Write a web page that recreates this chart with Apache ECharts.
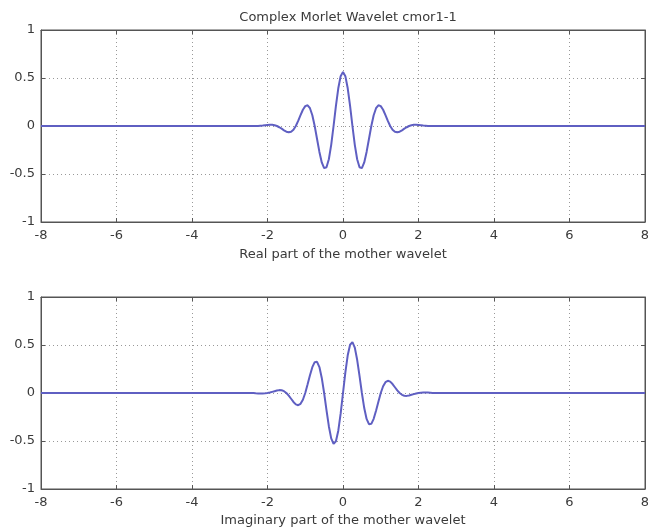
<!DOCTYPE html>
<html>
<head>
<meta charset="utf-8">
<script src="https://cdn.jsdelivr.net/npm/echarts@6/dist/echarts.min.js"></script>
<style>
html,body{margin:0;padding:0;background:#fff;}
#chart{width:648px;height:531px;}
</style>
</head>
<body>
<div id="chart"></div>
<script>
// ---- data ----
const titleText = 'Complex Morlet Wavelet cmor1-1';
const realLabel = 'Real part of the mother wavelet';
const imagLabel = 'Imaginary part of the mother wavelet';
const xTicks = [-8, -6, -4, -2, 0, 2, 4, 6, 8];
const yTicks = [-1, -0.5, 0, 0.5, 1];

const xs = [-8,
  -2.5, -2.4375, -2.375, -2.3125, -2.25, -2.1875, -2.125, -2.0625,
  -2, -1.9375, -1.875, -1.8125, -1.75, -1.6875, -1.625, -1.5625,
  -1.5, -1.4375, -1.375, -1.3125, -1.25, -1.1875, -1.125, -1.0625,
  -1, -0.9375, -0.875, -0.8125, -0.75, -0.6875, -0.625, -0.5625,
  -0.5, -0.4375, -0.375, -0.3125, -0.25, -0.1875, -0.125, -0.0625,
  0, 0.0625, 0.125, 0.1875, 0.25, 0.3125, 0.375, 0.4375,
  0.5, 0.5625, 0.625, 0.6875, 0.75, 0.8125, 0.875, 0.9375,
  1, 1.0625, 1.125, 1.1875, 1.25, 1.3125, 1.375, 1.4375,
  1.5, 1.5625, 1.625, 1.6875, 1.75, 1.8125, 1.875, 1.9375,
  2, 2.0625, 2.125, 2.1875, 2.25, 2.3125, 2.375, 2.4375,
  2.5, 8];

const realPart = [0,
  -0.001, -0.001, -0.001, -0.001, 0, 0.002, 0.004, 0.007,
  0.010, 0.012, 0.012, 0.008, 0, -0.013, -0.028, -0.045,
  -0.059, -0.066, -0.060, -0.039, 0, 0.053, 0.113, 0.169,
  0.207, 0.216, 0.185, 0.112, 0, -0.135, -0.270, -0.380,
  -0.439, -0.430, -0.346, -0.196, 0, 0.209, 0.393, 0.519,
  0.564, 0.519, 0.393, 0.209, 0, -0.196, -0.346, -0.430,
  -0.439, -0.380, -0.270, -0.135, 0, 0.112, 0.185, 0.216,
  0.207, 0.169, 0.113, 0.053, 0, -0.039, -0.060, -0.066,
  -0.059, -0.045, -0.028, -0.013, 0, 0.008, 0.012, 0.012,
  0.010, 0.007, 0.004, 0.002, 0, -0.001, -0.001, -0.001,
  -0.001, 0];

const imagPart = [0,
  0, -0.001, -0.001, -0.003, -0.004, -0.004, -0.004, -0.003,
  0, 0.005, 0.012, 0.019, 0.026, 0.030, 0.028, 0.019,
  0, -0.027, -0.060, -0.093, -0.118, -0.127, -0.113, -0.070,
  0, 0.090, 0.185, 0.269, 0.321, 0.325, 0.270, 0.157,
  0, -0.178, -0.346, -0.473, -0.530, -0.503, -0.393, -0.215,
  0, 0.215, 0.393, 0.503, 0.530, 0.473, 0.346, 0.178,
  0, -0.157, -0.270, -0.325, -0.321, -0.269, -0.185, -0.090,
  0, 0.070, 0.113, 0.127, 0.118, 0.093, 0.060, 0.027,
  0, -0.019, -0.028, -0.030, -0.026, -0.019, -0.012, -0.005,
  0, 0.003, 0.004, 0.004, 0.004, 0.003, 0.001, 0.001,
  0, 0];

// ---- chart ----
const chart = echarts.init(document.getElementById('chart'), null, {renderer: 'canvas'});
const FONT = 'DejaVu Sans, Liberation Sans, Arial, sans-serif';
const FS = 13;
const TXT = '#3a3a3a';
const AX = '#555';

function pairs(y) { return xs.map((x, i) => [x, y[i]]); }

const grids = [
  {left: 41, top: 30, width: 604, height: 192, show: true, borderColor: AX, borderWidth: 1,
    backgroundColor: '#fff', containLabel: false, outerBoundsMode: 'none'},
  {left: 41, top: 297, width: 604, height: 192, show: true, borderColor: AX, borderWidth: 1,
    backgroundColor: '#fff', containLabel: false, outerBoundsMode: 'none'}
];

function xAxisMain(gi, name, gap) {
  return {
    type: 'value', gridIndex: gi, min: xTicks[0], max: xTicks[xTicks.length - 1], interval: 2,
    position: 'bottom',
    axisLine: {show: true, onZero: false, lineStyle: {color: AX, width: 1}},
    axisTick: {show: true, inside: true, length: 4, lineStyle: {color: AX}},
    axisLabel: {show: true, color: TXT, fontSize: FS, fontFamily: FONT, margin: 7},
    splitLine: {show: true, lineStyle: {color: '#999', type: [1, 3], width: 1}},
    name: name, nameLocation: 'middle', nameGap: gap,
    nameTextStyle: {color: TXT, fontSize: FS, fontFamily: FONT}
  };
}
function xAxisTop(gi) {
  return {
    type: 'value', gridIndex: gi, min: xTicks[0], max: xTicks[xTicks.length - 1], interval: 2,
    position: 'top',
    axisLine: {show: true, onZero: false, lineStyle: {color: AX, width: 1}},
    axisTick: {show: true, inside: true, length: 4, lineStyle: {color: AX}},
    axisLabel: {show: false}, splitLine: {show: false}
  };
}
function yAxisMain(gi) {
  return {
    type: 'value', gridIndex: gi, min: yTicks[0], max: yTicks[yTicks.length - 1], interval: 0.5,
    position: 'left',
    axisLine: {show: true, onZero: false, lineStyle: {color: AX, width: 1}},
    axisTick: {show: true, inside: true, length: 4, lineStyle: {color: AX}},
    axisLabel: {show: true, color: TXT, fontSize: FS, fontFamily: FONT, margin: 6,
      formatter: v => String(v)},
    splitLine: {show: true, lineStyle: {color: '#999', type: [1, 3], width: 1}}
  };
}
function yAxisRight(gi) {
  return {
    type: 'value', gridIndex: gi, min: yTicks[0], max: yTicks[yTicks.length - 1], interval: 0.5,
    position: 'right',
    axisLine: {show: true, onZero: false, lineStyle: {color: AX, width: 1}},
    axisTick: {show: true, inside: true, length: 4, lineStyle: {color: AX}},
    axisLabel: {show: false}, splitLine: {show: false}
  };
}

const LINE = '#5f5fc2';
const option = {
  backgroundColor: '#fff',
  animation: false,
  title: {
    text: titleText, left: 343, top: 6, textAlign: 'center',
    textStyle: {color: TXT, fontSize: FS, fontWeight: 'normal', fontFamily: FONT}
  },
  grid: grids,
  xAxis: [xAxisMain(0, realLabel, 26), xAxisMain(1, imagLabel, 25), xAxisTop(0), xAxisTop(1)],
  yAxis: [yAxisMain(0), yAxisMain(1), yAxisRight(0), yAxisRight(1)],
  series: [
    {type: 'line', xAxisIndex: 0, yAxisIndex: 0, data: pairs(realPart), smooth: false,
      showSymbol: false, lineStyle: {color: LINE, width: 2}},
    {type: 'line', xAxisIndex: 1, yAxisIndex: 1, data: pairs(imagPart), smooth: false,
      showSymbol: false, lineStyle: {color: LINE, width: 2}}
  ]
};
chart.setOption(option);
</script>
</body>
</html>
